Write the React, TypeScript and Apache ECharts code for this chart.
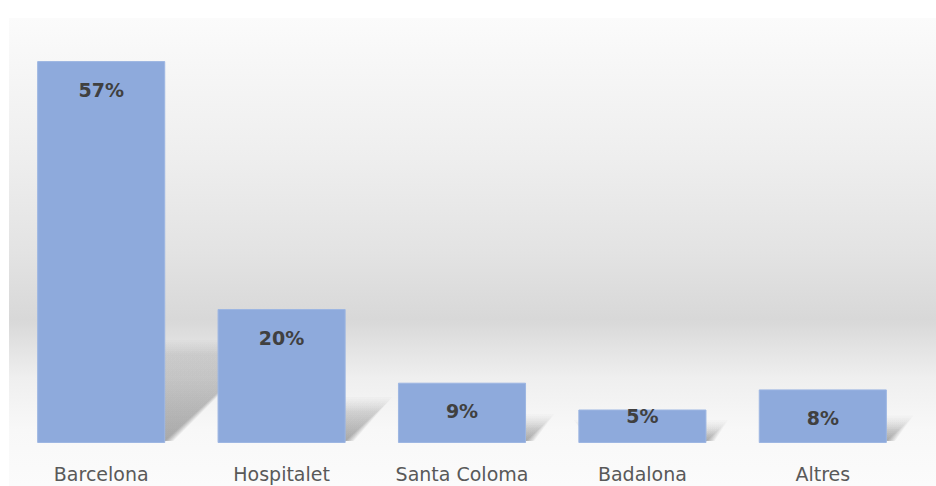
import React, { useEffect, useRef } from "react";
import * as echarts from "echarts";

const categories = ["Barcelona", "Hospitalet", "Santa Coloma", "Badalona", "Altres"];
const values = [57, 20, 9, 5, 8];
const labelDistances = [19, 19, 19, -3, 19];

export default function App() {
  const ref = useRef<HTMLDivElement>(null);
  useEffect(() => {
    if (!ref.current) return;
    const chart = echarts.init(ref.current, null, { renderer: "svg" });
    const font = "'DejaVu Sans', Verdana, sans-serif";
    chart.setOption({
      animation: false,
      backgroundColor: "#ffffff",
      graphic: [
        {
          type: "rect",
          z: -10,
          silent: true,
          shape: { x: 9, y: 18, width: 927, height: 468 },
          style: {
            fill: {
              type: "linear",
              x: 0,
              y: 0,
              x2: 0,
              y2: 1,
              colorStops: [
                { offset: 0, color: "#fbfbfb" },
                { offset: 0.3, color: "#eeeeee" },
                { offset: 0.5, color: "#e3e3e3" },
                { offset: 0.645, color: "#d8d8d8" },
                { offset: 0.77, color: "#efefef" },
                { offset: 0.88, color: "#f8f8f8" },
                { offset: 1, color: "#fbfbfb" },
              ],
            },
          },
        },
      ],
      grid: { left: 11, right: 23, top: 41, bottom: 43 },
      xAxis: {
        type: "category",
        data: categories,
        axisLine: { show: false },
        axisTick: { show: false },
        axisLabel: { color: "#595959", fontSize: 19, fontFamily: font, margin: 21 },
      },
      yAxis: {
        type: "value",
        min: 0,
        max: 60,
        show: false,
        splitLine: { show: false },
      },
      series: [
        {
          type: "custom",
          z: 1,
          silent: true,
          clip: false,
          data: values.map((v, i) => [i, v]),
          renderItem: (params: any, api: any) => {
            const idx = api.value(0);
            const v = api.value(1);
            const top = api.coord([idx, v]);
            const base = api.coord([idx, 0]);
            const bw = api.size([1, 0])[0] * 0.71;
            const h = base[1] - top[1];
            const xL = base[0] - bw / 2;
            const xR = xL + bw;
            const sh = 0.23 * h;
            const dx = 0.25 * h;
            const b = base[1] - 2;
            const children: any[] = [];
            const layers = 7;
            for (let k = layers - 1; k >= 0; k--) {
              const e = k * 2.2;
              children.push({
                type: "polygon",
                shape: {
                  points: [
                    [xL + 12, b],
                    [xR + e * 0.6, b],
                    [xR + dx + e, b - sh - e],
                    [xL + dx - e, b - sh - e],
                  ],
                },
                style: {
                  fill: {
                    type: "linear",
                    x: 0,
                    y: 1,
                    x2: 0,
                    y2: 0,
                    colorStops: [
                      { offset: 0, color: "rgba(0,0,0,0.055)" },
                      { offset: 1, color: "rgba(0,0,0,0.015)" },
                    ],
                  },
                },
              });
            }
            return { type: "group", children };
          },
        },
        {
          type: "bar",
          z: 2,
          data: values.map((v, i) => ({
            value: v,
            label: { distance: labelDistances[i] },
          })),
          barWidth: "71%",
          itemStyle: { color: "#8eaadc", borderColor: "#9db6e2", borderWidth: 1 },
          label: {
            show: true,
            position: "insideTop",
            formatter: "{c}%",
            color: "#404040",
            fontSize: 19,
            fontWeight: "bold",
            fontFamily: font,
          },
        },
      ],
    });
    return () => chart.dispose();
  }, []);
  return <div ref={ref} style={{ width: 936, height: 486, position: "absolute", left: 0, top: 0 }} />;
}
